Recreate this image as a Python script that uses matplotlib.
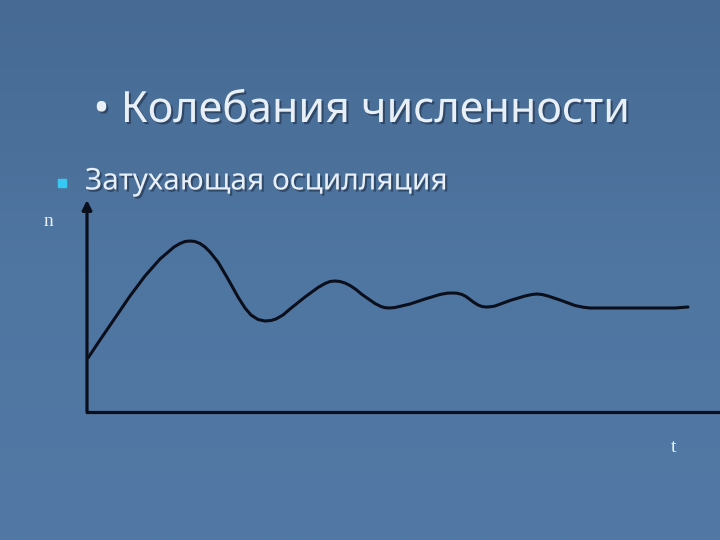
import numpy as np
import matplotlib.pyplot as plt
import matplotlib.patheffects as pe
from matplotlib.colors import LinearSegmentedColormap

# curve: t (time) and n (population), arbitrary units
t = [1, 13, 28, 43, 58, 73, 80, 87, 93, 98, 103, 108, 113, 118, 123, 131, 141, 151,
     158, 164, 171, 178, 184, 189, 196, 203, 218, 231, 238, 243, 248, 253, 258, 263,
     269, 275, 288, 294, 298, 303, 308, 323, 338, 353, 360, 365, 370, 375, 379, 383,
     387, 391, 395, 399, 403, 408, 423, 438, 445, 450, 455, 461, 473, 488, 496, 503,
     553, 588, 601]
n = [54, 72, 94, 116, 136, 153, 159, 165, 168.5, 170.5, 171, 170.5, 168.5, 165, 160,
     150, 133, 115, 104, 97, 92.5, 91, 91.5, 93, 97, 103, 115, 124.5, 128.5, 130.5,
     131, 130.5, 129, 126.5, 122.5, 117.5, 108.5, 105.5, 104.3, 104, 104.5, 108, 113,
     117.5, 118.8, 119, 118.8, 117.5, 115.5, 112.5, 109.5, 107, 105.5, 105, 105.2,
     106, 111.5, 116, 117.5, 118, 117.5, 116, 112, 106.5, 104.8, 104, 104, 104, 105]

title = "• Колебания численности"
bullet = "Затухающая осцилляция"

W, H = 720, 540
fig = plt.figure(figsize=(7.2, 5.4), dpi=100)

# background
bg = fig.add_axes([0, 0, 1, 1])
grad = np.linspace(0, 1, 256).reshape(-1, 1)
cmap = LinearSegmentedColormap.from_list("slide", ["#466a93", "#4f76a1", "#5279a5"])
bg.imshow(grad, aspect="auto", cmap=cmap, extent=[0, 1, 0, 1])
bg.set_axis_off()

shadow = [pe.withSimplePatchShadow(offset=(1.5, -1.5), shadow_rgbFace="#2a3f5c", alpha=0.8)]
fig.text(362 / W, 1 - 111 / H, title, ha="center", va="center", fontsize=31,
         family="Noto Sans", color="#e8eff6", path_effects=shadow)
fig.text(85 / W, 1 - 182 / H, bullet, ha="left", va="center", fontsize=21.5,
         family="Noto Sans", color="#e8eff6", path_effects=shadow)
fig.patches.append(plt.Rectangle((58 / W, 1 - 187 / H), 8 / W, 8 / H,
                                 transform=fig.transFigure, color="#35c8f2"))

# chart
x0, y0 = 87, 412
ax = fig.add_axes([x0 / W, 1 - y0 / H, (W - x0) / W, (y0 - 200) / H])
ax.set_xlim(0, W - x0)
ax.set_ylim(0, y0 - 200)
ax.patch.set_alpha(0)
for s in ax.spines.values():
    s.set_visible(False)
ax.set_xticks([])
ax.set_yticks([])

ax.plot(t, n, color="#0b0f1c", lw=2.2, solid_capstyle="round",
        solid_joinstyle="round", clip_on=False)
ax.annotate("", xy=(0, 212), xytext=(0, 0),
            arrowprops=dict(arrowstyle="-|>", color="#0b0f1c", lw=2.3,
                            mutation_scale=14, shrinkA=0, shrinkB=0),
            annotation_clip=False)
ax.plot([0, W - x0], [0, 0], color="#0b0f1c", lw=2.3, clip_on=False,
        solid_capstyle="projecting")

fig.text(48 / W, 1 - 222 / H, "n", ha="center", va="center", fontsize=14,
         family="Liberation Serif", color="#e8eff6")
fig.text(674 / W, 1 - 447 / H, "t", ha="center", va="center", fontsize=14,
         family="Liberation Serif", color="#e8eff6")

fig.savefig("out.png", dpi=100)
